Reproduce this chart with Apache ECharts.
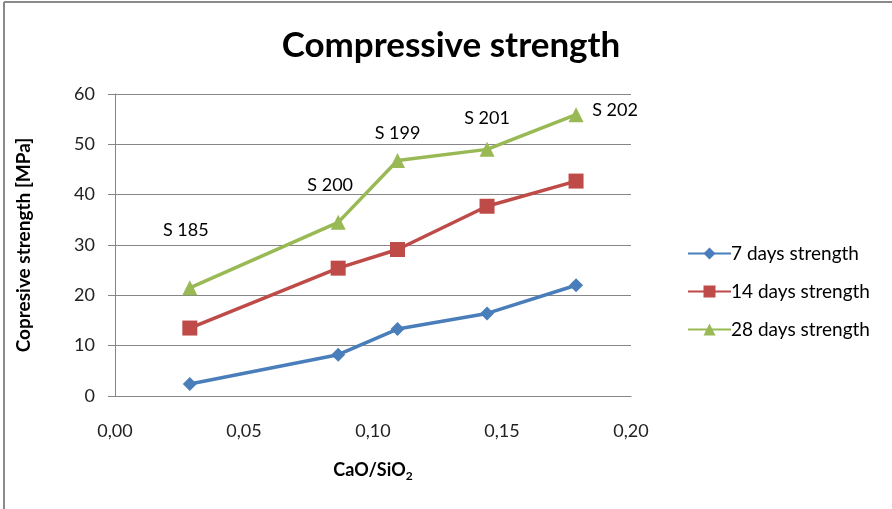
<!DOCTYPE html>
<html>
<head>
<meta charset="utf-8">
<script src="https://cdn.jsdelivr.net/npm/echarts@6/dist/echarts.min.js"></script>
<style>
  html, body { margin: 0; padding: 0; background: #fff; }
  #chart { width: 892px; height: 509px; }
</style>
</head>
<body>
<div id="chart"></div>
<script>
// CaO/SiO2 ratio of each mix
const ratios = [0.029, 0.0865, 0.1095, 0.1442, 0.1787];
// sample names written above the 28-day curve
const sampleNames = ['S 185', 'S 200', 'S 199', 'S 201', 'S 202'];
// compressive strength in MPa
const strength7 = [2.4, 8.2, 13.3, 16.4, 22.0];
const strength14 = [13.5, 25.4, 29.1, 37.7, 42.7];
const strength28 = [21.5, 34.5, 46.8, 49.0, 55.9];
const seriesNames = ['7 days strength', '14 days strength', '28 days strength'];

// where each sample name sits relative to its point
const nameOffsets = [[-4, -36], [-8, -16], [0, -6], [0, -10], [39, 17]];

const FONT = 'Lato, "Open Sans", sans-serif';
const pairs = (ys) => ratios.map((x, i) => [x, ys[i]]);

const chart = echarts.init(document.getElementById('chart'), null, { renderer: 'canvas' });

chart.setOption({
  animation: false,
  backgroundColor: '#ffffff',
  textStyle: { fontFamily: FONT },
  title: {
    text: 'Compressive strength',
    left: 446, top: 23, textAlign: 'center',
    textStyle: { fontFamily: FONT, fontWeight: 'bold', fontSize: 35, color: '#000' }
  },
  grid: { left: 115, right: 261, top: 94, bottom: 113, containLabel: false },
  legend: {
    orient: 'vertical',
    left: 682, top: 239,
    itemWidth: 43, itemHeight: 15, itemGap: 19,
    textStyle: { fontFamily: FONT, fontSize: 19, color: '#000', padding: [0, 0, 0, -5] },
    data: seriesNames
  },
  xAxis: {
    type: 'value', min: 0, max: 0.2, interval: 0.05,
    name: '{a|CaO/SiO}{s|2}',
    nameLocation: 'middle', nameGap: 63,
    nameTextStyle: {
      rich: {
        a: { fontFamily: FONT, fontWeight: 'bold', fontSize: 18, color: '#000' },
        s: { fontFamily: FONT, fontWeight: 'bold', fontSize: 12, color: '#000', padding: [11, 0, 0, 0] }
      }
    },
    axisLine: { lineStyle: { color: '#868686', width: 1 } },
    axisTick: { show: false },
    splitLine: { show: false },
    axisLabel: {
      margin: 26, fontSize: 18, color: '#222', fontFamily: FONT,
      formatter: (v) => v.toFixed(2).replace('.', ',')
    }
  },
  yAxis: {
    type: 'value', min: 0, max: 60, interval: 10,
    name: 'Copresive strength [MPa]',
    nameLocation: 'middle', nameGap: 82, nameRotate: 90,
    nameTextStyle: { fontFamily: FONT, fontWeight: 'bold', fontSize: 19, color: '#000' },
    axisLine: { show: true, lineStyle: { color: '#868686', width: 1 } },
    axisTick: { show: true, inside: false, length: 7, lineStyle: { color: '#868686' } },
    splitLine: { show: true, lineStyle: { color: '#868686', width: 1 } },
    axisLabel: { margin: 20, fontSize: 18, color: '#222', fontFamily: FONT }
  },
  series: [
    {
      name: seriesNames[0], type: 'line', data: pairs(strength7),
      symbol: 'diamond', symbolSize: 14, showAllSymbol: true,
      itemStyle: { color: '#4A7EBB' },
      lineStyle: { color: '#4A7EBB', width: 3.5 }
    },
    {
      name: seriesNames[1], type: 'line', data: pairs(strength14),
      symbol: 'rect', symbolSize: 15,
      itemStyle: { color: '#BE4B48' },
      lineStyle: { color: '#BE4B48', width: 3.5 }
    },
    {
      name: seriesNames[2], type: 'line',
      data: pairs(strength28).map((p, i) => ({
        value: p,
        label: {
          show: true, formatter: sampleNames[i], position: 'top',
          offset: nameOffsets[i], fontFamily: FONT, fontSize: 18, color: '#000'
        }
      })),
      symbol: 'triangle', symbolSize: 15,
      itemStyle: { color: '#98B954' },
      lineStyle: { color: '#98B954', width: 3.5 }
    }
  ],
  graphic: [
    { type: 'line', shape: { x1: 4, y1: 2, x2: 892, y2: 2 }, style: { stroke: '#8a8a8a', lineWidth: 2 } },
    { type: 'line', shape: { x1: 4, y1: 2, x2: 4, y2: 509 }, style: { stroke: '#8a8a8a', lineWidth: 2 } }
  ]
});
</script>
</body>
</html>
